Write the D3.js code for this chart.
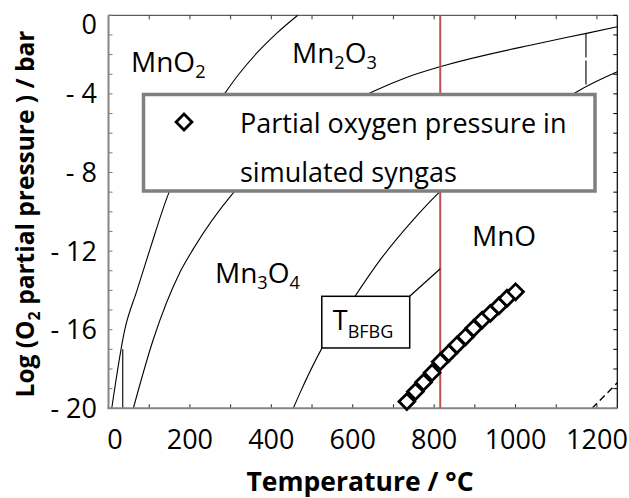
<!DOCTYPE html>
<html>
<head>
<meta charset="utf-8">
<script src="https://cdn.jsdelivr.net/npm/d3@7"></script>
<style>
  body { margin: 0; background: #fff; }
  svg { display: block; }
  text { font-family: "Open Sans", Lato, sans-serif; fill: #000; }
</style>
</head>
<body>
<svg id="chart" width="629" height="498"></svg>
<script>
// ---- axis ticks ----
const xMajorTicks = [0, 200, 400, 600, 800, 1000, 1200];
const xMinorTicks = [0, 100, 200, 300, 400, 500, 600, 700, 800, 900, 1000, 1100, 1200];
const yMajorTicks = [0, -4, -8, -12, -16, -20];
const yMajorLabels = ["0", "- 4", "- 8", "- 12", "- 16", "- 20"];
const yMinorTicks = [0, -1, -2, -3, -4, -5, -6, -7, -8, -9, -10, -11, -12, -13, -14, -15, -16, -17, -18, -19, -20];

// ---- phase boundaries: [temperature °C, log pO2 / bar] ----
const boundaryMnO2Mn2O3 = [[8, -20], [40, -16.0], [70, -14.0], [102, -11.9], [147, -9.1], [200, -6.9],
  [250, -5.1], [285, -4.0], [320, -3.0], [364, -1.93], [413, -0.92], [465, 0]];
const boundaryMn2O3Mn3O4 = [[61, -20], [110, -16.5], [175, -13.1], [208, -11.9], [306, -9.05], [400, -7.1],
  [500, -5.6], [600, -4.4], [654, -3.84], [732, -3.16], [814, -2.62], [1059, -1.42], [1174, -0.92], [1250, -0.58]];
const boundaryMn3O4MnO = [[454, -20], [470, -19.24], [524, -16.95], [605, -14.32], [667, -12.46], [748, -10.42],
  [810, -9.06], [900, -7.5], [1000, -6.0], [1100, -4.6], [1150, -3.9], [1250, -2.87]];
const transitionLowT = [[35, -20], [35, -17.0]];
const transitionMn3O4 = [[1173, -0.92], [1173, -3.65]];
const boundaryMnOMn = [[1188, -20], [1250, -18.7]];

// ---- partial oxygen pressure in simulated syngas ----
const syngasTemp = [733, 754, 774, 795, 815, 836, 856, 877, 897, 918, 938, 959, 979, 1000];
const syngasLogP = [-19.66, -19.15, -18.68, -18.19, -17.63, -17.20, -16.78, -16.36, -15.93, -15.51, -15.17, -14.79, -14.40, -14.07];

// ---- blast furnace gas temperature ----
const tBFBG = 815;
const tBFBGLeaderY = -12.9;

const svg = d3.select("#chart");
const x = d3.scaleLinear().domain([0, 1250]).range([108.5, 617.3]);
const y = d3.scaleLinear().domain([-20, 0]).range([408.3, 15.3]);

const line = d3.line().x(d => x(d[0])).y(d => y(d[1])).curve(d3.curveMonotoneX);
const straight = d3.line().x(d => x(d[0])).y(d => y(d[1]));

// frame: top and right edges with inward ticks
svg.append("line").attr("x1", x(0)).attr("x2", x(1250)).attr("y1", y(0)).attr("y2", y(0))
  .attr("stroke", "#333").attr("stroke-width", 1);
svg.append("line").attr("x1", x(1250)).attr("x2", x(1250)).attr("y1", y(0)).attr("y2", y(-20))
  .attr("stroke", "#000").attr("stroke-width", 1.2);
svg.append("g").selectAll("line").data(xMinorTicks).join("line")
  .attr("x1", d => x(d)).attr("x2", d => x(d)).attr("y1", y(0)).attr("y2", y(0) + 4)
  .attr("stroke", "#333").attr("stroke-width", 1);
svg.append("g").selectAll("line").data(xMinorTicks).join("line")
  .attr("x1", d => x(d)).attr("x2", d => x(d)).attr("y1", y(-20)).attr("y2", y(-20) - 4)
  .attr("stroke", "#222").attr("stroke-width", 1);
svg.append("g").selectAll("line").data(yMinorTicks).join("line")
  .attr("x1", x(1250)).attr("x2", x(1250) - 4).attr("y1", d => y(d)).attr("y2", d => y(d))
  .attr("stroke", "#000").attr("stroke-width", 1);
svg.append("g").selectAll("line").data(yMinorTicks).join("line")
  .attr("x1", x(0)).attr("x2", x(0) + 4).attr("y1", d => y(d)).attr("y2", d => y(d))
  .attr("stroke", "#777").attr("stroke-width", 1);

// phase boundaries
const curves = svg.append("g").attr("fill", "none").attr("stroke", "#000").attr("stroke-width", 1.1);
[boundaryMnO2Mn2O3, boundaryMn2O3Mn3O4, boundaryMn3O4MnO].forEach(b => curves.append("path").attr("d", line(b)));
curves.append("path").attr("d", straight(transitionLowT));
curves.append("path").attr("d", straight(transitionMn3O4)).attr("stroke-dasharray", "24,3");
curves.append("path").attr("d", straight(boundaryMnOMn)).attr("stroke-dasharray", "7,4").attr("stroke-width", 1.4);

// left and bottom axis lines
svg.append("line").attr("x1", x(0)).attr("x2", x(0)).attr("y1", y(0)).attr("y2", y(-20))
  .attr("stroke", "#868686").attr("stroke-width", 2);
svg.append("line").attr("x1", x(0) - 1).attr("x2", x(1250)).attr("y1", y(-20)).attr("y2", y(-20))
  .attr("stroke", "#868686").attr("stroke-width", 2);

// T_BFBG marker line
svg.append("line").attr("x1", x(tBFBG)).attr("x2", x(tBFBG)).attr("y1", y(0)).attr("y2", y(-20))
  .attr("stroke", "#c0504d").attr("stroke-width", 2);

// syngas oxygen pressure markers
const diamond = d3.symbol().type(d3.symbolSquare).size(125);
svg.append("g").selectAll("path").data(syngasTemp.map((t, i) => [t, syngasLogP[i]])).join("path")
  .attr("d", diamond)
  .attr("transform", d => `translate(${x(d[0])},${y(d[1])}) rotate(45)`)
  .attr("fill", "#fff").attr("stroke", "#000").attr("stroke-width", 2.8);

// axis tick labels
svg.append("g").selectAll("text").data(xMajorTicks).join("text")
  .attr("x", d => Math.max(x(d), 115)).attr("y", 449)
  .attr("text-anchor", "middle").attr("font-size", 27).text(d => d);
svg.append("g").selectAll("text").data(yMajorTicks).join("text")
  .attr("x", 97).attr("y", d => Math.max(y(d), 24) + 9.5)
  .attr("text-anchor", "end").attr("font-size", 27).text((d, i) => yMajorLabels[i]);

// axis titles
svg.append("text").attr("x", 360).attr("y", 491).attr("text-anchor", "middle")
  .attr("font-size", 26.5).attr("font-weight", "bold").text("Temperature / °C");
const yTitle = svg.append("text").attr("transform", "translate(34,214) rotate(-90)")
  .attr("text-anchor", "middle").attr("font-size", 24.5).attr("font-weight", "bold");
yTitle.append("tspan").text("Log (O");
yTitle.append("tspan").attr("font-size", 16).attr("dy", 6).text("2");
yTitle.append("tspan").attr("dy", -6).text(" partial pressure ) / bar");

// chemical formula label with subscripts
function chem(px, py, parts, size) {
  const t = svg.append("text").attr("x", px).attr("y", py).attr("font-size", size);
  let shifted = false;
  parts.forEach(p => {
    const isSub = /^\d+$/.test(p);
    const s = t.append("tspan").text(p);
    if (isSub && !shifted) { s.attr("dy", 6).attr("font-size", size * 0.65); shifted = true; }
    else if (isSub) { s.attr("font-size", size * 0.65); }
    else if (shifted) { s.attr("dy", -6); shifted = false; }
  });
  return t;
}
chem(131, 72, ["MnO", "2"], 28);
chem(292, 63, ["Mn", "2", "O", "3"], 28);
chem(215, 283, ["Mn", "3", "O", "4"], 28);
chem(472, 246, ["MnO"], 28);

// T_BFBG callout
const boxL = x(524), boxR = x(740), boxT = y(-14.3), boxB = y(-16.93);
svg.append("line").attr("x1", boxR).attr("y1", boxT).attr("x2", x(tBFBG)).attr("y2", y(tBFBGLeaderY))
  .attr("stroke", "#000").attr("stroke-width", 1.2);
svg.append("rect").attr("x", boxL).attr("y", boxT).attr("width", boxR - boxL).attr("height", boxB - boxT)
  .attr("fill", "#fff").attr("stroke", "#000").attr("stroke-width", 1.5);
const tb = svg.append("text").attr("x", boxL + 11).attr("y", boxT + 34).attr("font-size", 27);
tb.append("tspan").text("T");
tb.append("tspan").attr("dy", 8).attr("font-size", 18).text("BFBG");

// legend
svg.append("rect").attr("x", 143.5).attr("y", 94.5).attr("width", 451.5).attr("height", 96.5)
  .attr("fill", "#fff").attr("stroke", "#7f7f7f").attr("stroke-width", 3.5);
svg.append("path").attr("d", diamond).attr("transform", "translate(184,122) rotate(45)")
  .attr("fill", "#fff").attr("stroke", "#000").attr("stroke-width", 2.8);
svg.append("text").attr("x", 240).attr("y", 133).attr("font-size", 27).text("Partial oxygen pressure in");
svg.append("text").attr("x", 240).attr("y", 182).attr("font-size", 27).text("simulated syngas");
</script>
</body>
</html>
